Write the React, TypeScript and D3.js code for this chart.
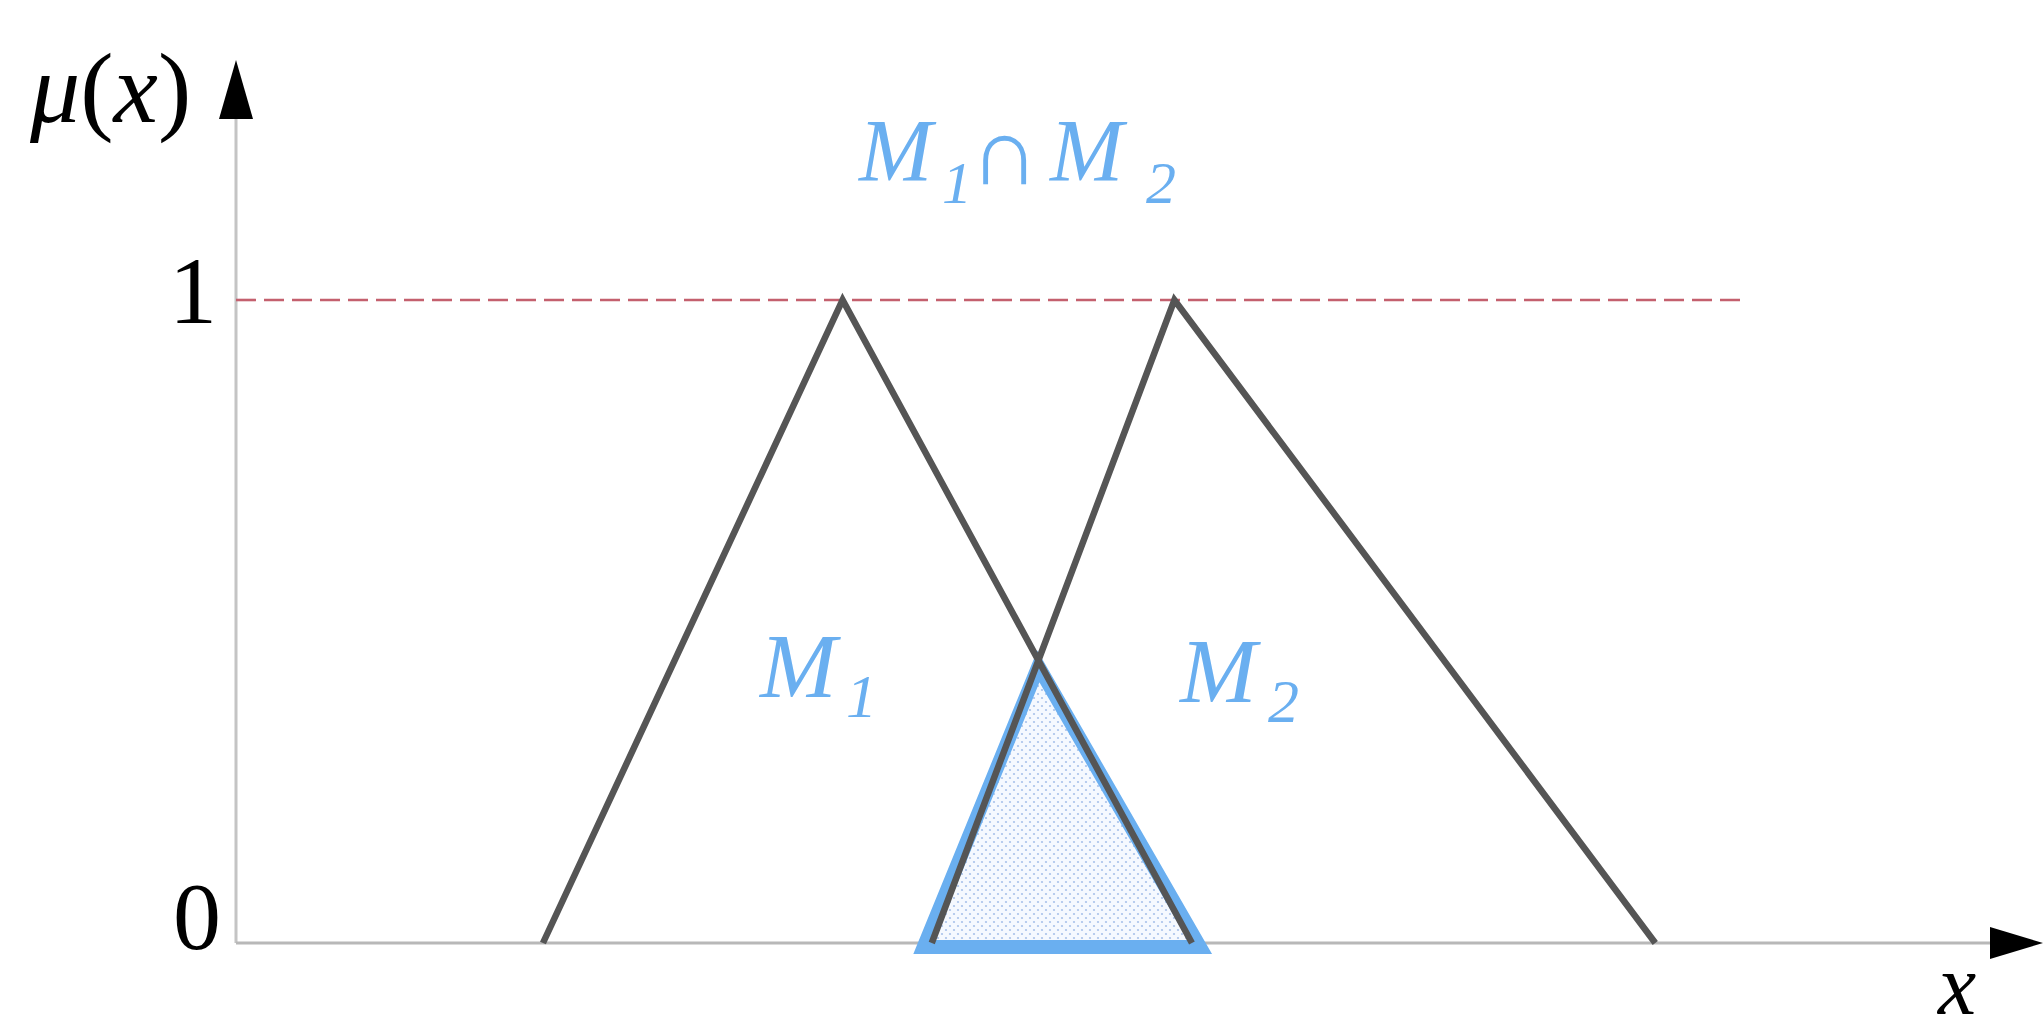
import React, { useEffect } from "react";
import * as d3 from "d3";

// membership function parameters [left foot, peak, right foot] (x units)
const m1Params = [2.1, 4.15, 6.54];
const m2Params = [4.76, 6.42, 9.71];
const yTicks = [0, 1];
const xDomain = [0, 12];
const muDomain = [0, 1];

const W = 2043;
const H = 1034;

function tri(p: number[], mu: number) {
  return [
    [p[0], 0],
    [p[1], mu],
    [p[2], 0],
  ];
}

export default function App() {
  useEffect(() => {
    document.body.style.margin = "0";
    document.body.style.overflow = "hidden";
  }, []);

  const x = d3.scaleLinear().domain(xDomain).range([236, 1990]);
  const y = d3.scaleLinear().domain(muDomain).range([943, 300]);
  const line = d3
    .line<number[]>()
    .x((d) => d[0])
    .y((d) => d[1]);
  const toPx = (pts: number[][]) => pts.map((d) => [x(d[0]), y(d[1])]);

  const m1 = toPx(tri(m1Params, 1));
  const m2 = toPx(tri(m2Params, 1));

  // intersection of M1 falling leg and M2 rising leg
  const [, b1, c1] = m1Params;
  const [a2, b2] = m2Params;
  const xi = (c1 * (b2 - a2) + a2 * (c1 - b1)) / (b2 - a2 + (c1 - b1));
  const mui = (c1 - xi) / (c1 - b1);
  const inter = toPx([
    [a2, 0],
    [xi, mui],
    [c1, 0],
  ]);

  // blue outline: just outside the grey legs at the base, tucked under the crossing at the top
  const outline = [
    [inter[0][0] - 8, inter[0][1] + 4],
    [inter[1][0], inter[1][1] + 6],
    [inter[2][0] + 8, inter[2][1] + 4],
  ];

  const blue = "#6aaff0";
  const gray = "#555555";
  const serif = "Liberation Serif";

  return (
    <svg
      width={W}
      height={H}
      style={{ display: "block", background: "#fff", fontFamily: "'Liberation Serif', 'DejaVu Serif', serif" }}
    >
      <defs>
        <pattern id="dots" width="8" height="8" patternUnits="userSpaceOnUse">
          <rect width="8" height="8" fill="#f5f9ff" />
          <circle cx="2" cy="2" r="1.1" fill="#a9c2ea" />
          <circle cx="6" cy="6" r="1.1" fill="#a9c2ea" />
        </pattern>
      </defs>

      {/* axes */}
      <line x1={x(0)} y1={y(0)} x2={x(0)} y2={119} stroke="#c4c4c4" strokeWidth={3} />
      <polygon points={`${x(0)},60 ${x(0) - 17},119 ${x(0) + 17},119`} fill="#000" />
      <line x1={x(0)} y1={y(0)} x2={x(xDomain[1])} y2={y(0)} stroke="#b8b8b8" strokeWidth={3} />
      <polygon
        points={`${W},${y(0)} ${x(xDomain[1])},${y(0) - 16} ${x(xDomain[1])},${y(0) + 16}`}
        fill="#000"
      />

      {/* dashed line at mu = 1 */}
      <line
        x1={x(0)}
        x2={1747}
        y1={y(1)}
        y2={y(1)}
        stroke="#c4606e"
        strokeWidth={2.6}
        strokeDasharray="20 8"
      />

      {/* intersection region */}
      <path
        d={line(outline) + "Z"}
        fill="url(#dots)"
        stroke={blue}
        strokeWidth={14}
        strokeLinejoin="miter"
      />

      {/* membership functions */}
      <path d={line(m1) ?? ""} fill="none" stroke={gray} strokeWidth={6.5} strokeLinejoin="miter" />
      <path d={line(m2) ?? ""} fill="none" stroke={gray} strokeWidth={6.5} strokeLinejoin="miter" />

      {/* tick labels */}
      {yTicks.map((t) => (
        <text
          key={t}
          x={t === 0 ? 221 : 217}
          y={y(t) + (t === 0 ? 6 : 23)}
          textAnchor="end"
          fontSize={96}
          fontFamily={serif}
          fill="#000"
        >
          {t}
        </text>
      ))}

      {/* axis labels */}
      <text x={30} y={122} fontSize={100} fontFamily={serif} fill="#000">
        <tspan fontStyle="italic">μ</tspan>
        <tspan>(</tspan>
        <tspan fontStyle="italic">x</tspan>
        <tspan>)</tspan>
      </text>
      <text x={1938} y={1014} fontSize={86} fontStyle="italic" fontFamily={serif} fill="#000">
        x
      </text>

      {/* set labels */}
      <g fontFamily={serif} fontStyle="italic" fill={blue}>
        <text x={760} y={697} fontSize={92}>M</text>
        <text x={846} y={717} fontSize={62}>1</text>
        <text x={1180} y={702} fontSize={92}>M</text>
        <text x={1268} y={722} fontSize={62}>2</text>

        <text x={859} y={180} fontSize={88}>M</text>
        <text x={942} y={203} fontSize={60}>1</text>
        <text x={970} y={184} fontSize={96} fontStyle="normal">∩</text>
        <text x={1050} y={180} fontSize={88}>M</text>
        <text x={1146} y={203} fontSize={60}>2</text>
      </g>
    </svg>
  );
}
